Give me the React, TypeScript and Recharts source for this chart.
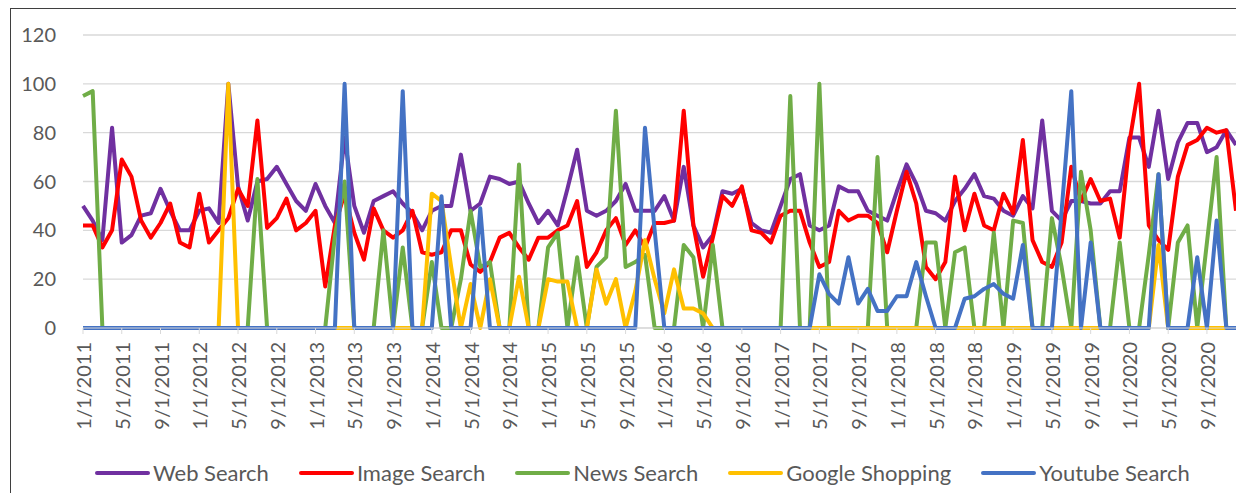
import React from "react";
import { LineChart, Line, XAxis, YAxis, CartesianGrid } from "recharts";

// Monatswerte 1/2011 bis 12/2020, je Zeile ein Jahr
const YEARS = [2011, 2012, 2013, 2014, 2015, 2016, 2017, 2018, 2019, 2020];
const MONTHS = [1, 2, 3, 4, 5, 6, 7, 8, 9, 10, 11, 12];
const DATES = YEARS.flatMap((y) => MONTHS.map((m) => `${m}/1/${y}`));

const Y_TICKS = [0, 20, 40, 60, 80, 100, 120];

const WEB = [
  50, 44, 36, 82, 35, 38, 46, 47, 57, 48, 40, 40,
  48, 49, 43, 100, 58, 44, 60, 61, 66, 59, 52, 48,
  59, 50, 43, 78, 50, 39, 52, 54, 56, 51, 47, 40,
  48, 50, 50, 71, 48, 51, 62, 61, 59, 60, 51, 43,
  48, 42, 57, 73, 48, 46, 48, 52, 59, 48, 48, 48,
  54, 44, 66, 42, 33, 38, 56, 55, 57, 43, 40, 39,
  50, 61, 63, 42, 40, 42, 58, 56, 56, 48, 46, 44,
  56, 67, 59, 48, 47, 44, 52, 57, 63, 54, 53, 48,
  46, 54, 49, 85, 48, 44, 52, 52, 51, 51, 56, 56,
  78, 78, 66, 89, 61, 76, 84, 84, 72, 74, 81, 75,
];

const IMAGE = [
  42, 42, 33, 40, 69, 62, 44, 37, 43, 51, 35, 33,
  55, 35, 40, 45, 57, 50, 85, 41, 45, 53, 40, 43,
  48, 17, 42, 55, 39, 28, 49, 40, 37, 40, 48, 31,
  30, 31, 40, 40, 26, 23, 27, 37, 39, 33, 28, 37,
  37, 40, 42, 52, 25, 31, 40, 45, 34, 40, 33, 43,
  43, 44, 89, 42, 21, 37, 54, 50, 58, 40, 39, 35,
  46, 48, 48, 35, 25, 27, 48, 44, 46, 46, 43, 31,
  48, 64, 51, 25, 20, 27, 62, 40, 55, 42, 40, 55,
  47, 77, 36, 27, 25, 35, 66, 52, 61, 52, 53, 37,
  76, 100, 42, 36, 32, 62, 75, 77, 82, 80, 81, 48,
];

const NEWS = [
  95, 97, 0, 0, 0, 0, 0, 0, 0, 0, 0, 0,
  0, 0, 0, 0, 0, 0, 61, 0, 0, 0, 0, 0,
  0, 0, 38, 60, 0, 0, 0, 40, 0, 33, 0, 0,
  27, 0, 0, 20, 48, 25, 27, 0, 0, 67, 0, 0,
  33, 39, 0, 29, 0, 25, 29, 89, 25, 27, 30, 0,
  0, 0, 34, 29, 0, 34, 0, 0, 0, 0, 0, 0,
  0, 95, 0, 0, 100, 0, 0, 0, 0, 0, 70, 0,
  0, 0, 0, 35, 35, 0, 31, 33, 0, 0, 39, 0,
  44, 43, 0, 0, 45, 25, 0, 64, 40, 0, 0, 35,
  0, 0, 30, 63, 0, 35, 42, 0, 35, 70, 0, 0,
];

const SHOPPING = [
  0, 0, 0, 0, 0, 0, 0, 0, 0, 0, 0, 0,
  0, 0, 0, 100, 0, 0, 0, 0, 0, 0, 0, 0,
  0, 0, 0, 0, 0, 0, 0, 0, 0, 0, 0, 0,
  55, 52, 25, 0, 18, 0, 20, 0, 0, 21, 0, 0,
  20, 19, 19, 0, 0, 24, 10, 20, 0, 15, 36, 20,
  6, 24, 8, 8, 6, 0, 0, 0, 0, 0, 0, 0,
  0, 0, 0, 0, 0, 0, 0, 0, 0, 0, 0, 0,
  0, 0, 0, 0, 0, 0, 0, 0, 0, 0, 0, 0,
  0, 0, 0, 0, 0, 0, 0, 0, 0, 0, 0, 0,
  0, 0, 0, 34, 0, 0, 0, 0, 0, 0, 0, 0,
];

const YOUTUBE = [
  0, 0, 0, 0, 0, 0, 0, 0, 0, 0, 0, 0,
  0, 0, 0, 0, 0, 0, 0, 0, 0, 0, 0, 0,
  0, 0, 0, 100, 0, 0, 0, 0, 0, 97, 0, 0,
  0, 54, 0, 0, 0, 49, 0, 0, 0, 0, 0, 0,
  0, 0, 0, 0, 0, 0, 0, 0, 0, 0, 82, 40,
  0, 0, 0, 0, 0, 0, 0, 0, 0, 0, 0, 0,
  0, 0, 0, 0, 22, 14, 10, 29, 10, 16, 7, 7,
  13, 13, 27, 13, 0, 0, 0, 12, 13, 16, 18, 14,
  12, 34, 0, 0, 0, 48, 97, 0, 35, 0, 0, 0,
  0, 0, 0, 63, 0, 0, 0, 29, 0, 44, 0, 0,
];

const SERIES = [
  { key: "web", name: "Web Search", color: "#7030A0", values: WEB },
  { key: "image", name: "Image Search", color: "#FF0000", values: IMAGE },
  { key: "news", name: "News Search", color: "#70AD47", values: NEWS },
  { key: "shopping", name: "Google Shopping", color: "#FFC000", values: SHOPPING },
  { key: "youtube", name: "Youtube Search", color: "#4472C4", values: YOUTUBE },
];

const FONT = "Lato, 'Open Sans', sans-serif";
const TEXT = "#595959";

const data = DATES.map((date, i) => {
  const row: Record<string, string | number> = { date };
  SERIES.forEach((s) => {
    row[s.key] = s.values[i];
  });
  return row;
});

function DateTick({ x, y, payload }: any) {
  return (
    <text
      x={x}
      y={y}
      transform={`rotate(-90, ${x}, ${y})`}
      textAnchor="end"
      dy="0.4em"
      fill={TEXT}
      fontSize={20}
      fontFamily={FONT}
    >
      {payload.value}
    </text>
  );
}

export default function App() {
  return (
    <div
      style={{
        position: "absolute",
        left: 0,
        top: 0,
        width: 1236,
        height: 493,
        overflow: "hidden",
        background: "#fff",
      }}
    >
      <div
        style={{
          position: "absolute",
          left: 10,
          top: 8,
          width: 1300,
          height: 600,
          border: "1px solid #3f3f3f",
        }}
      />
      <div style={{ position: "absolute", left: 0, top: 0 }}>
        <LineChart
          width={1236}
          height={493}
          data={data}
          margin={{ top: 35, right: 0, left: 23, bottom: 54 }}
        >
          <CartesianGrid vertical={false} stroke="#D9D9D9" strokeWidth={1.3} />
          <XAxis
            dataKey="date"
            interval={3}
            height={111}
            stroke="#D9D9D9"
            tickSize={6}
            tickMargin={8}
            tick={<DateTick />}
          />
          <YAxis
            domain={[0, 120]}
            ticks={Y_TICKS}
            width={60}
            axisLine={false}
            tickLine={false}
            tickSize={0}
            tickMargin={27}
            tick={{ fill: TEXT, fontSize: 20, fontFamily: FONT }}
          />
          {SERIES.map((s) => (
            <Line
              key={s.key}
              type="linear"
              dataKey={s.key}
              name={s.name}
              stroke={s.color}
              strokeWidth={4}
              strokeLinejoin="round"
              dot={false}
              isAnimationActive={false}
            />
          ))}
        </LineChart>
      </div>
      <div
        style={{
          position: "absolute",
          left: 95,
          top: 459,
          display: "flex",
          alignItems: "center",
          gap: 30,
          fontFamily: FONT,
          fontSize: 22,
          color: TEXT,
          whiteSpace: "nowrap",
        }}
      >
        {SERIES.map((s) => (
          <div key={s.key} style={{ display: "flex", alignItems: "center", gap: 3 }}>
            <span
              style={{
                display: "inline-block",
                width: 55,
                height: 4,
                borderRadius: 2,
                background: s.color,
              }}
            />
            <span>{s.name}</span>
          </div>
        ))}
      </div>
    </div>
  );
}
